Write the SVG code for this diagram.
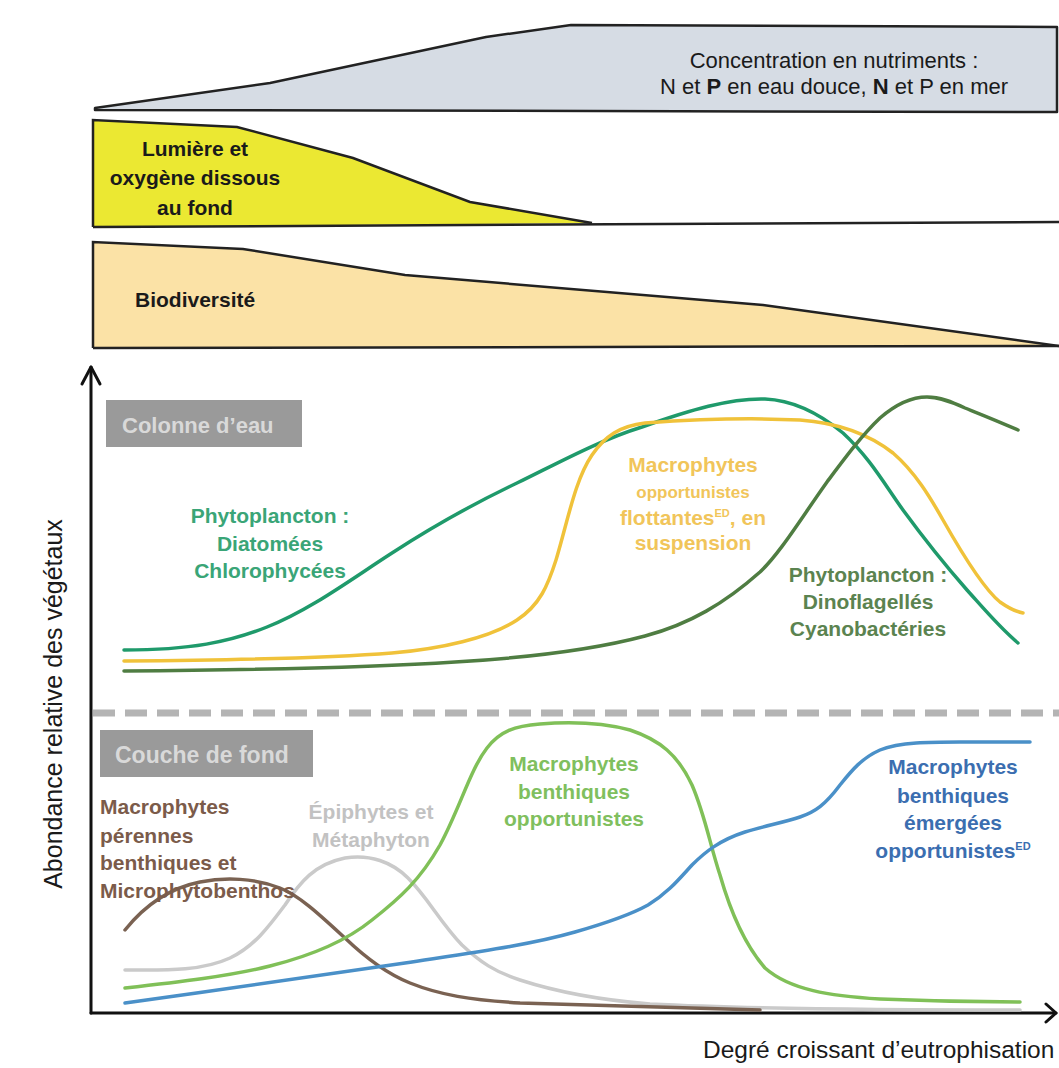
<svg xmlns="http://www.w3.org/2000/svg" width="1059" height="1068" viewBox="0 0 1059 1068">
<style>
text{font-family:"Liberation Sans",Arial,sans-serif}
.band{stroke:#222;stroke-width:2.5;stroke-linejoin:round}
.edge{stroke:#222;stroke-width:2.5;fill:none}
.reg{font-size:22px;fill:#1a1a1a}
.bd{font-size:21px;font-weight:bold;fill:#1a1a1a}
.lab{font-size:21px;font-weight:bold;text-anchor:middle}
.labl{font-size:21px;font-weight:bold}
.axis{stroke:#111;stroke-width:3;fill:none;stroke-linecap:round;stroke-linejoin:round}
.ax{font-size:25px;fill:#1a1a1a}
.curve{fill:none;stroke-width:3.5;stroke-linecap:round;stroke-linejoin:round}
.box{fill:#9a9a9a}
.boxt{font-size:22px;font-weight:bold;fill:#d9d9d9}
.sup{font-size:11px}
</style>

<g id="nutrients">
<path class="band" fill="#d6dce4" d="M95,108 L270,83 L486,37 L571,25 L1057,27 L1057,112 L95,110 Z"/>
<text class="reg" x="834" y="68" text-anchor="middle">Concentration en nutriments :</text>
<text class="reg" x="834" y="94" text-anchor="middle">N et <tspan font-weight="bold">P</tspan> en eau douce, <tspan font-weight="bold">N</tspan> et P en mer</text>
</g>

<g id="lumiere">
<path fill="#ebe832" stroke="none" d="M93,120 L237,127 L353,158 L470,202 L592,223 L93,227 Z"/>
<path class="edge" d="M93,227 L93,120 L237,127 L353,158 L470,202 L592,223"/>
<path class="edge" d="M93,227 L1059,222"/>
<text class="bd" x="195" y="156" text-anchor="middle">Lumière et</text>
<text class="bd" x="195" y="185" text-anchor="middle">oxygène dissous</text>
<text class="bd" x="195" y="215" text-anchor="middle">au fond</text>
</g>

<g id="biodiversite">
<path fill="#fbe2a6" stroke="none" d="M93,242 L243,249 L405,275 L763,305 L1059,346 L93,348 Z"/>
<path class="edge" d="M93,348 L93,242 L243,249 L405,275 L763,305 L1059,346"/>
<path class="edge" d="M93,348 L1059,346"/>
<text class="bd" x="135" y="307">Biodiversité</text>
</g>

<g id="axes">
<path class="axis" d="M91,1013 L91,367"/>
<path class="axis" d="M82,384 L91,367 L100,384"/>
<path class="axis" d="M91,1013 L1056,1013"/>
<path class="axis" d="M1046,1004 L1056,1013 L1046,1022"/>
<text class="ax" transform="translate(62,704) rotate(-90)" text-anchor="middle">Abondance relative des végétaux</text>
<text class="ax" x="703" y="1058" style="font-size:24.5px">Degré croissant d’eutrophisation</text>
</g>

<g id="separator">
<path d="M93,713 L1059,713" stroke="#b4b4b4" stroke-width="7" stroke-dasharray="22 10" fill="none"/>
</g>

<g id="colonne-eau">
<rect class="box" x="106" y="400" width="196" height="47"/>
<text class="boxt" x="122" y="433">Colonne d’eau</text>
</g>

<g id="couche-fond">
<rect class="box" x="100" y="730" width="213" height="47"/>
<text class="boxt" x="115" y="763" style="font-size:23px">Couche de fond</text>
</g>

<g id="connectors">
<path id="c-diatomees" class="curve" stroke="#1f9a6b" d="M124,650 C190,650 230,642 267,627 C310,610 350,580 392,553 C435,525 475,503 517,483 C560,462 600,440 642,427 C690,410 730,398 765,399 C790,400 815,410 843,433 C870,458 885,485 903,510 C925,540 945,565 967,590 C985,610 1000,628 1018,643"/>
<path id="c-flottantes" class="curve" stroke="#f0c23a" d="M124,661 C250,660 330,658 392,653 C440,649 490,638 517,620 C540,605 548,585 556,560 C568,520 575,480 592,455 C605,436 620,426 645,423 C700,419 760,418 800,420 C840,423 870,435 893,453 C915,472 930,497 943,520 C960,550 985,590 1000,602 C1010,609 1017,612 1023,613"/>
<path id="c-dinoflagelles" class="curve" stroke="#4f7d42" d="M124,671 C250,670 380,667 455,662 C540,657 600,648 645,636 C690,624 725,603 760,572 C780,553 800,520 827,482 C845,458 862,435 880,418 C895,405 910,397 927,397 C940,397 952,402 965,408 C980,414 993,419 1018,430"/>
<path id="c-epiphytes" class="curve" stroke="#cacaca" d="M125,970 C160,970 200,972 230,958 C255,946 270,925 285,905 C300,882 315,864 345,858 C370,854 392,862 408,878 C428,898 440,922 462,945 C480,962 495,972 520,980 C560,993 600,1000 650,1004 C750,1009 900,1010 1020,1010"/>
<path id="c-perennes" class="curve" stroke="#7a6252" d="M125,930 C145,905 170,888 200,882 C225,877 255,878 280,888 C300,896 320,915 345,938 C370,962 390,975 410,983 C440,995 470,1000 520,1003 C600,1006 680,1008 760,1010"/>
<path id="c-benthiques" class="curve" stroke="#80c058" d="M125,988 C180,982 230,976 270,966 C310,956 345,942 372,920 C400,898 420,880 440,845 C460,808 470,770 487,748 C500,731 515,726 540,724 C565,722 600,722 630,730 C660,740 678,755 692,785 C705,815 710,845 720,875 C730,910 745,945 765,968 C790,990 830,996 880,999 C950,1002 990,1002 1020,1002"/>
<path id="c-emergees" class="curve" stroke="#4a90c8" d="M125,1003 C220,990 320,975 405,963 C470,953 530,945 575,932 C610,922 630,915 648,905 C668,893 680,878 692,865 C705,852 720,840 745,832 C765,826 785,822 800,817 C815,812 825,805 840,785 C852,770 862,758 880,750 C900,742 930,742 960,742 C990,742 1010,742 1030,742"/>
</g>

<g id="label-diatomees" fill="#3aa577">
<text class="lab" x="270" y="523">Phytoplancton :</text>
<text class="lab" x="270" y="551">Diatomées</text>
<text class="lab" x="270" y="578">Chlorophycées</text>
</g>

<g id="label-flottantes" fill="#f1c55a">
<text class="lab" x="693" y="472">Macrophytes</text>
<text class="lab" x="693" y="498" style="font-size:17px">opportunistes</text>
<text class="lab" x="693" y="525">flottantes<tspan class="sup" dy="-8">ED</tspan><tspan dy="8">, en</tspan></text>
<text class="lab" x="693" y="550">suspension</text>
</g>

<g id="label-dinoflagelles" fill="#5b8350">
<text class="lab" x="868" y="582">Phytoplancton :</text>
<text class="lab" x="868" y="609">Dinoflagellés</text>
<text class="lab" x="868" y="636">Cyanobactéries</text>
</g>

<g id="label-perennes" fill="#7b5b4a">
<text class="labl" x="100" y="814">Macrophytes</text>
<text class="labl" x="100" y="843">pérennes</text>
<text class="labl" x="100" y="870">benthiques et</text>
<text class="labl" x="100" y="898">Microphytobenthos</text>
</g>

<g id="label-epiphytes" fill="#c2c2c2">
<text class="lab" x="371" y="819">Épiphytes et</text>
<text class="lab" x="371" y="847">Métaphyton</text>
</g>

<g id="label-benthiques" fill="#80bf5e">
<text class="lab" x="574" y="771">Macrophytes</text>
<text class="lab" x="574" y="799">benthiques</text>
<text class="lab" x="574" y="826">opportunistes</text>
</g>

<g id="label-emergees" fill="#3b6eb0">
<text class="lab" x="953" y="774">Macrophytes</text>
<text class="lab" x="953" y="803">benthiques</text>
<text class="lab" x="953" y="830">émergées</text>
<text class="lab" x="953" y="858">opportunistes<tspan class="sup" dy="-8">ED</tspan></text>
</g>
</svg>
